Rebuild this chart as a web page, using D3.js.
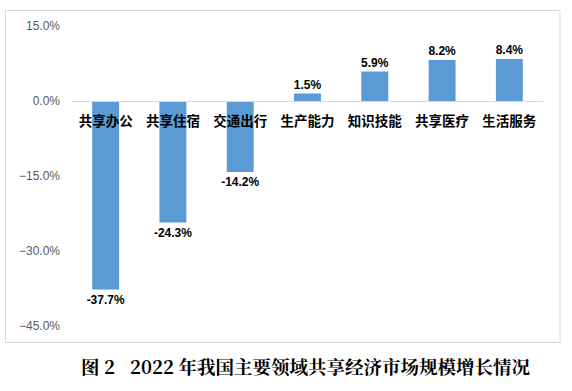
<!DOCTYPE html>
<html><head><meta charset="utf-8">
<script src="https://cdn.jsdelivr.net/npm/d3@7"></script>
<style>body{margin:0;background:#fff}svg{display:block}</style>
</head><body>
<script>
const categories = ["共享办公","共享住宿","交通出行","生产能力","知识技能","共享医疗","生活服务"];
const values = [-37.7,-24.3,-14.2,1.5,5.9,8.2,8.4];
const yTicks = [15,0,-15,-30,-45];
const titleParts = ["图","2","2022 年我国主要领域共享经济市场规模增长情况"];

const W=572,H=391;
const svg=d3.select("body").append("svg").attr("width",W).attr("height",H);
svg.append("rect").attr("x",5.5).attr("y",10.5).attr("width",554.5).attr("height",332)
  .attr("fill","#fff").attr("stroke","#d9d9d9").attr("stroke-width",1);

const y=d3.scaleLinear().domain([-45,15]).range([326,26]);
const x=d3.scaleBand().domain(categories).range([72,543]).paddingInner(0.6).paddingOuter(0.3);

// y tick labels
svg.append("g").selectAll("text").data(yTicks).join("text")
  .attr("x",60).attr("y",d=>y(d)).attr("dy","0.35em").attr("text-anchor","end")
  .attr("font-family","Liberation Sans, Arial, sans-serif").attr("font-size",12).attr("fill","#595959")
  .text(d=>d3.format(".1f")(d)+"%");

// bars
svg.append("g").selectAll("rect").data(values).join("rect")
  .attr("x",(d,i)=>x(categories[i])).attr("width",x.bandwidth())
  .attr("y",d=>y(Math.max(0,d))).attr("height",d=>Math.abs(y(d)-y(0)))
  .attr("fill","#5b9bd5");

// zero line
svg.append("line").attr("x1",72).attr("x2",543).attr("y1",y(0)+0.5).attr("y2",y(0)+0.5)
  .attr("stroke","#d9d9d9").attr("stroke-width",1);

// category labels
svg.append("g").selectAll("text").data(categories).join("text")
  .attr("x",d=>x(d)+x.bandwidth()/2).attr("y",y(0)+20).attr("dy","0.35em").attr("text-anchor","middle")
  .attr("font-family","Noto Sans CJK SC, sans-serif").attr("font-weight","bold").attr("font-size",13.5).attr("fill","#000")
  .text(d=>d);

// value labels
svg.append("g").selectAll("text").data(values).join("text")
  .attr("x",(d,i)=>x(categories[i])+x.bandwidth()/2)
  .attr("y",d=>d>=0? y(d)-9 : y(d)+10).attr("dy","0.35em").attr("text-anchor","middle")
  .attr("font-family","Liberation Sans, Arial, sans-serif").attr("font-weight","bold").attr("font-size",12).attr("fill","#000")
  .text(d=>d.toFixed(1)+"%");

// title
const t=svg.append("text").attr("y",368).attr("dy","0.35em")
  .attr("font-family","Noto Serif CJK SC, Noto Sans CJK SC, serif").attr("font-weight","bold").attr("font-size",18.5).attr("fill","#000");
const tx=[81,104,130];
titleParts.forEach((p,i)=>t.append("tspan").attr("x",tx[i]).text(p));
</script>
</body></html>
